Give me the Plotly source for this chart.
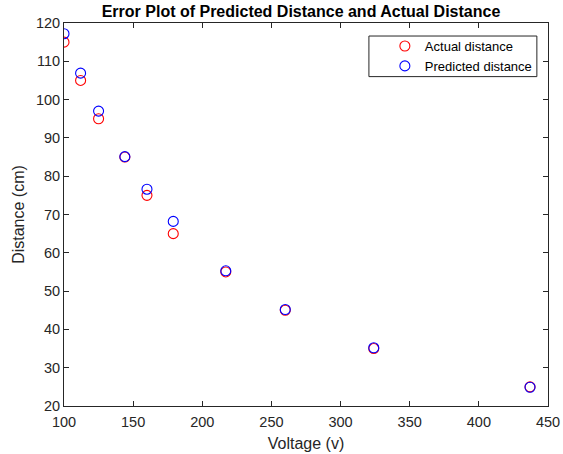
import plotly.graph_objects as go

voltage = [100, 112, 125, 144, 160, 179, 217, 260, 324, 437]
actual_distance = [115, 105, 95, 85, 75, 65, 55, 45, 35, 25]
predicted_distance = [117.2, 106.9, 97.0, 85.1, 76.6, 68.2, 55.3, 45.2, 35.2, 24.9]

FONT = "Liberation Sans, Arial"

fig = go.Figure()
fig.add_trace(go.Scatter(
    x=voltage, y=actual_distance, mode="markers", name="Actual distance",
    marker=dict(symbol="circle-open", size=10, color="#ff0000", line=dict(width=1.1)),
))
fig.add_trace(go.Scatter(
    x=voltage, y=predicted_distance, mode="markers", name="Predicted distance",
    marker=dict(symbol="circle-open", size=10, color="#0000ff", line=dict(width=1.1)),
))

axis_common = dict(
    showline=True, linecolor="#262626", linewidth=1, mirror="ticks",
    ticks="inside", ticklen=5, tickcolor="#262626", showgrid=False, zeroline=False,
    automargin=False,
    tickfont=dict(family=FONT, size=14.5, color="#262626"),
)

fig.update_layout(
    width=563, height=454,
    margin=dict(l=64, r=15, t=23, b=48),
    paper_bgcolor="white", plot_bgcolor="white",
    title=dict(text="<b>Error Plot of Predicted Distance and Actual Distance</b>",
               x=301 / 563, xanchor="center", y=1 - 11.5 / 454, yanchor="middle",
               font=dict(family=FONT, size=16, color="#000000")),
    xaxis=dict(range=[100, 450], tickvals=[100, 150, 200, 250, 300, 350, 400, 450],
               ticklabelstandoff=3,
               title=dict(text="Voltage (v)", standoff=8,
                          font=dict(family=FONT, size=16, color="#262626")),
               **axis_common),
    yaxis=dict(range=[20, 120], tickvals=[20, 30, 40, 50, 60, 70, 80, 90, 100, 110, 120],
               title=dict(text="Distance (cm)", standoff=7,
                          font=dict(family=FONT, size=16, color="#262626")),
               **axis_common),
    legend=dict(x=0.977, y=0.979, xanchor="right", yanchor="top",
                bgcolor="rgba(0,0,0,0)", borderwidth=0,
                font=dict(family=FONT, size=13, color="#000000"),
                tracegroupgap=0, itemwidth=30),
    shapes=[dict(type="rect", xref="paper", yref="paper",
                 x0=0.630, x1=0.977, y0=0.860, y1=0.966,
                 line=dict(color="#262626", width=1), fillcolor="rgba(0,0,0,0)",
                 layer="above")],
    showlegend=True,
)

fig.write_html("out.html", config={"displayModeBar": False},
               post_script="document.body.style.margin='0';")
